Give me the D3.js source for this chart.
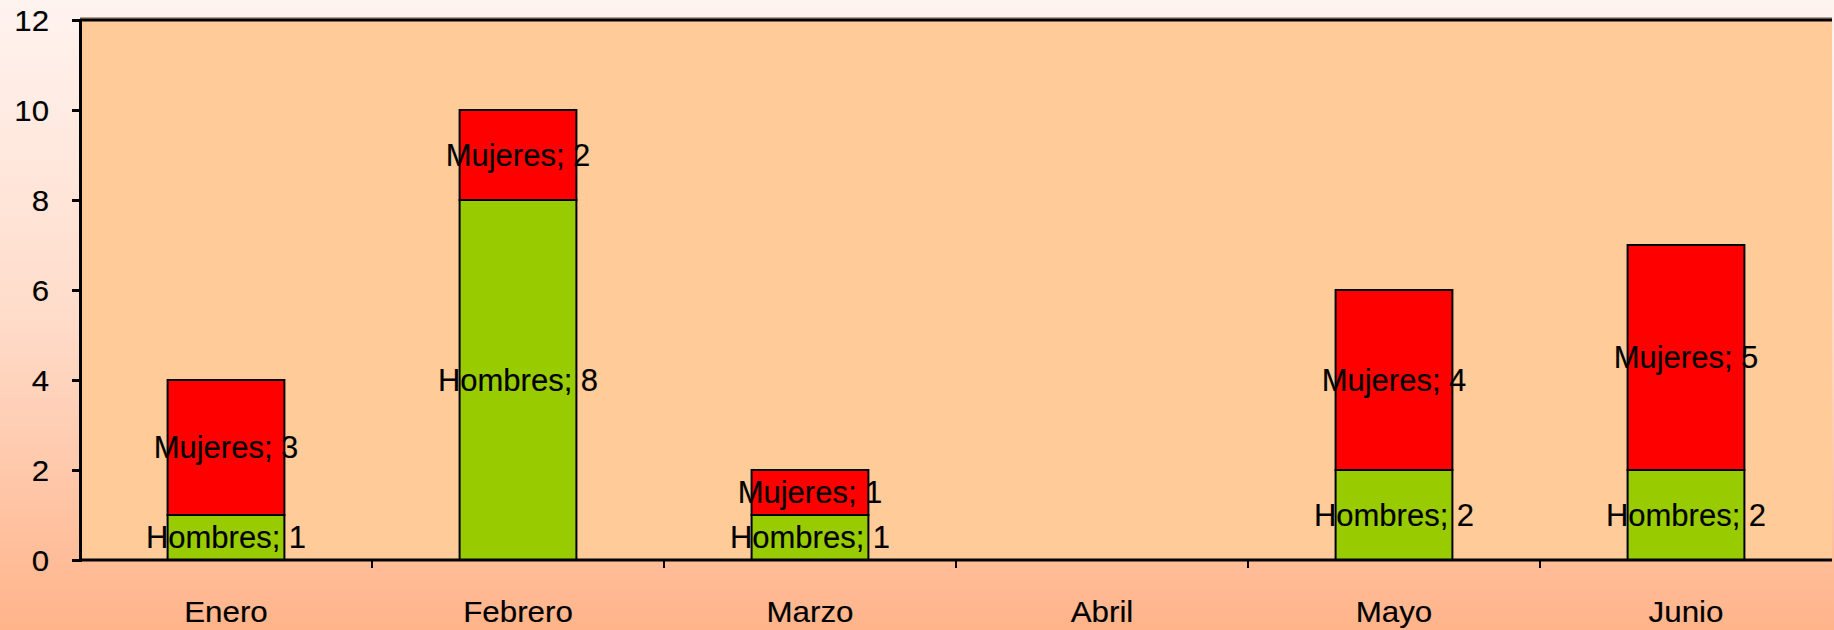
<!DOCTYPE html>
<html>
<head>
<meta charset="utf-8">
<script src="https://cdn.jsdelivr.net/npm/d3@7"></script>
<style>
  html, body { margin: 0; padding: 0; }
  body { width: 1834px; height: 630px; overflow: hidden; }
  text { font-family: "Liberation Sans", Arial, sans-serif; fill: #000; stroke: #000; stroke-width: 0.15px; }
</style>
</head>
<body>
<div id="chart"></div>
<script>
var months = ["Enero", "Febrero", "Marzo", "Abril", "Mayo", "Junio"];
var hombres = [1, 8, 1, 0, 2, 2];
var mujeres = [3, 2, 1, 0, 4, 5];
var yTicks = [0, 2, 4, 6, 8, 10, 12];

var W = 1834, H = 630;
var margin = {top: 20, right: 2, bottom: 70, left: 80},
  width = W - margin.left - margin.right,
  height = H - margin.top - margin.bottom;

var svg = d3.select("#chart").append("svg")
  .attr("width", W)
  .attr("height", H);

var defs = svg.append("defs");
var grad = defs.append("linearGradient")
  .attr("id", "bg")
  .attr("x1", 0).attr("y1", 0).attr("x2", 0).attr("y2", 1);
grad.append("stop").attr("offset", "0%").attr("stop-color", "#fff3ef");
grad.append("stop").attr("offset", "50%").attr("stop-color", "#ffdcca");
grad.append("stop").attr("offset", "100%").attr("stop-color", "#ffb48a");

svg.append("rect")
  .attr("width", W).attr("height", H)
  .attr("fill", "url(#bg)");

var g = svg.append("g")
  .attr("transform", "translate(" + margin.left + "," + margin.top + ")");

var x = d3.scaleBand()
  .domain(months)
  .range([0, width])
  .paddingInner(0.6)
  .paddingOuter(0.3);

// full-width bands for ticks and category labels
var xb = d3.scaleBand().domain(months).range([0, width]);

var y = d3.scaleLinear()
  .domain([0, 12])
  .range([height, 0]);

// plot area
g.append("rect")
  .attr("width", width)
  .attr("height", height)
  .attr("fill", "#ffcc99");

g.append("line")
  .attr("x1", 0).attr("x2", width)
  .attr("y1", -2).attr("y2", -2)
  .attr("stroke", "#6b5440").attr("stroke-width", 1);
g.append("line")
  .attr("x1", 0).attr("x2", width)
  .attr("y1", 0).attr("y2", 0)
  .attr("stroke", "#000").attr("stroke-width", 3);

var data = months.map(function(m, i) {
  return {month: m, Hombres: hombres[i], Mujeres: mujeres[i]};
});
var keys = ["Hombres", "Mujeres"];
var colors = {Hombres: "#99cc00", Mujeres: "#ff0000"};
var stacked = d3.stack().keys(keys)(data);

var layers = g.selectAll(".layer")
  .data(stacked)
  .enter().append("g")
  .attr("class", "layer")
  .attr("fill", function(d) { return colors[d.key]; });

layers.selectAll("rect")
  .data(function(d) { return d.filter(function(s) { return s[1] > s[0]; }); })
  .enter().append("rect")
  .attr("x", function(d) { return x(d.data.month); })
  .attr("y", function(d) { return y(d[1]); })
  .attr("width", x.bandwidth())
  .attr("height", function(d) { return y(d[0]) - y(d[1]); })
  .attr("stroke", "#000")
  .attr("stroke-width", 2);

// axes
var yAxis = g.append("g")
  .call(d3.axisLeft(y).tickValues(yTicks).tickSize(8).tickPadding(23));
yAxis.select(".domain").attr("stroke-width", 3).attr("stroke", "#000");
yAxis.selectAll(".tick line").attr("stroke-width", 3);
yAxis.selectAll(".tick text")
  .style("font-size", "30px")
  .attr("dy", "0.36em")
  .attr("transform", function() {
    var xx = +d3.select(this).attr("x");
    return "translate(" + (xx - xx * 1.04) + ",0) scale(1.04,1)";
  });

var xAxis = g.append("g")
  .attr("transform", "translate(0," + height + ")");
xAxis.append("line")
  .attr("x1", 0).attr("x2", width)
  .attr("stroke", "#000").attr("stroke-width", 3);
xAxis.selectAll(".xtick")
  .data(months.slice(1))
  .enter().append("line")
  .attr("x1", function(d) { return xb(d); })
  .attr("x2", function(d) { return xb(d); })
  .attr("y1", 0).attr("y2", 8)
  .attr("stroke", "#000").attr("stroke-width", 2);
xAxis.selectAll(".xlabel")
  .data(months)
  .enter().append("text")
  .attr("text-anchor", "middle")
  .style("font-size", "29px")
  .attr("transform", function(d) {
    return "translate(" + (xb(d) + xb.bandwidth() / 2) + ",62) scale(1.08,1)";
  })
  .text(function(d) { return d; });

// data labels
layers.selectAll(".lbl")
  .data(function(d) {
    return d.filter(function(s) { return s[1] > s[0]; })
      .map(function(s) { return {key: d.key, s: s}; });
  })
  .enter().append("text")
  .attr("class", "lbl")
  .attr("text-anchor", "middle")
  .attr("dy", "0.35em")
  .style("font-size", "31px")
  .style("fill", "#000")
  .attr("transform", function(d) {
    var cx = x(d.s.data.month) + x.bandwidth() / 2;
    var cy = y((d.s[0] + d.s[1]) / 2);
    return "translate(" + cx + "," + cy + ")";
  })
  .text(function(d) { return d.key + "; " + (d.s[1] - d.s[0]); });
</script>
</body>
</html>
